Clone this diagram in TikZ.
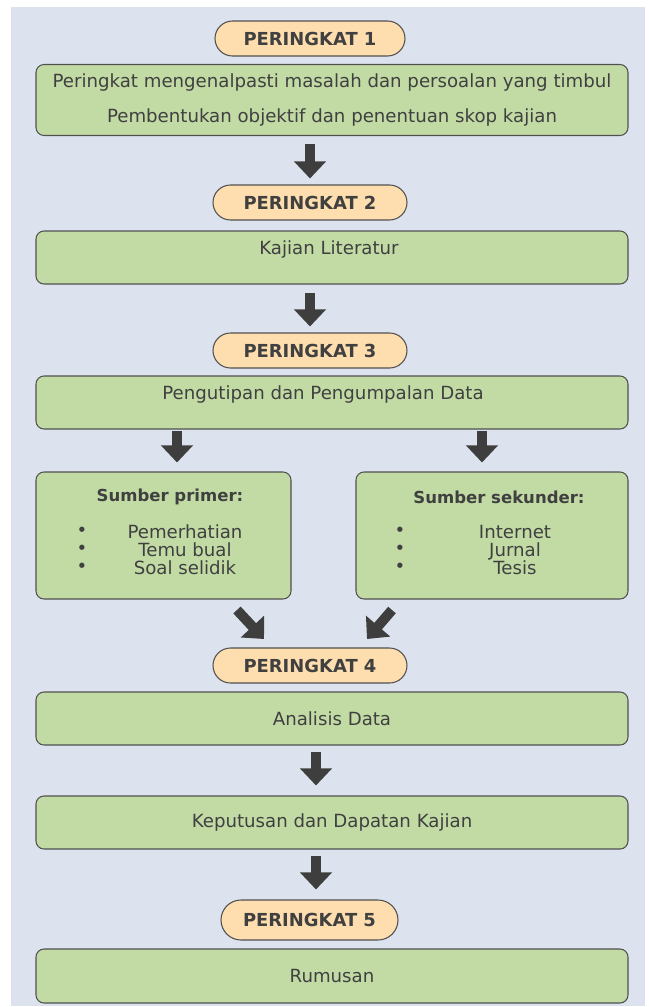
\documentclass[tikz,border=0pt]{standalone}
\usepackage{fontspec}
\setmainfont{DejaVu Sans}
\usetikzlibrary{arrows.meta,shapes.misc}
\newlength{\pxu}
\setlength{\pxu}{0.3mm}
\definecolor{bgblue}{HTML}{DDE3EE}
\definecolor{boxgreen}{HTML}{C2DBA5}
\definecolor{pillpeach}{HTML}{FEDDAE}
\definecolor{edgegrey}{HTML}{505050}
\definecolor{arrowgrey}{HTML}{3E3E3E}
\definecolor{textgrey}{HTML}{404040}

\begin{document}
\begin{tikzpicture}[x=0.3mm,y=-0.3mm]
\tikzstyle{stagebox}=[rounded rectangle,draw=edgegrey,fill=pillpeach,line width=0.9pt,
  minimum width=190\pxu,minimum height=35\pxu,inner sep=0pt,
  text=textgrey,font=\fontsize{15.3}{18}\selectfont\bfseries]
\tikzstyle{workbox}=[rectangle,rounded corners=2.4mm,draw=edgegrey,fill=boxgreen,line width=0.9pt,
  minimum width=592\pxu,minimum height=53\pxu,inner sep=0pt,
  text=textgrey,font=\fontsize{15.5}{18}\selectfont]
\tikzstyle{plain}=[inner sep=0pt,text=textgrey,font=\fontsize{15.5}{18}\selectfont]
\tikzstyle{listtext}=[inner sep=0pt,align=center,text=textgrey,font=\fontsize{15.5}{15.3}\selectfont]
\tikzstyle{bigarrow}=[draw=arrowgrey,line width=3mm,-{Triangle[length=5.1mm,width=9.3mm]}]

% background
\useasboundingbox (0,0) rectangle (649,1007);
\fill[bgblue] (11,7) rectangle (645,1006);

% stage 1
\node at (310,38.5) [stagebox] (p1) {PERINGKAT 1};
\node at (332,100) [workbox,minimum height=71\pxu,align=center,
  font=\fontsize{15.5}{29.8}\selectfont] (b1)
  {Peringkat mengenalpasti masalah dan persoalan yang timbul\\Pembentukan objektif dan penentuan skop kajian};

% stage 2
\node at (310,202.5) [stagebox,minimum width=194\pxu] (p2) {PERINGKAT 2};
\node at (332,257.5) [workbox] (b2) {};
\node at (329,249) [plain] (t2) {Kajian Literatur};

% stage 3
\node at (310,350.5) [stagebox,minimum width=194\pxu] (p3) {PERINGKAT 3};
\node at (332,402.5) [workbox] (b3) {};
\node at (323,394) [plain] (t3) {Pengutipan dan Pengumpalan Data};

% sources
\node at (163.5,535.5) [workbox,minimum width=255\pxu,minimum height=127\pxu] (bl) {};
\node at (170,497) [plain,font=\fontsize{14.1}{16}\selectfont\bfseries] (tl) {Sumber primer:};
\node at (82,550) [listtext] (dotl) {\textbullet\\\textbullet\\\textbullet};
\node at (185,550) [listtext] (srcl) {Pemerhatian\\Temu bual\\Soal selidik};

\node at (492,535.5) [workbox,minimum width=272\pxu,minimum height=127\pxu] (br) {};
\node at (499,497) [plain,font=\fontsize{14.1}{16}\selectfont\bfseries] (tr) {Sumber sekunder:};
\node at (400,550) [listtext] (dotr) {\textbullet\\\textbullet\\\textbullet};
\node at (515,550) [listtext] (srcr) {Internet\\Jurnal\\Tesis};

% stage 4
\node at (310,665.5) [stagebox,minimum width=194\pxu] (p4) {PERINGKAT 4};
\node at (332,718.5) [workbox] (b4) {Analisis Data};
\node at (332,822.5) [workbox] (b5) {Keputusan dan Dapatan Kajian};

% stage 5
\node at (309.5,920) [stagebox,minimum width=177\pxu,minimum height=40\pxu] (p5) {PERINGKAT 5};
\node at (332,976) [workbox,minimum height=54\pxu] (b6) {Rumusan};

% arrow ends
\coordinate (a3l) at (177,430);
\coordinate (a3r) at (482,430);
\coordinate (a4) at (316,745);
\coordinate (dl) at (237,610);
\coordinate (dlt) at (264,639);
\coordinate (dr) at (392,610);
\coordinate (drt) at (367,639);

\draw[bigarrow,shorten <=2.4mm,shorten >=1.8mm] (b1.south -| p2.north) -- (p2.north);
\draw[bigarrow,shorten <=2.4mm,shorten >=1.8mm] (b2.south -| p3.north) -- (p3.north);
\draw[bigarrow,shorten <=0.3mm,shorten >=2.7mm] (a3l) -- (a3l |- bl.north);
\draw[bigarrow,shorten <=0.3mm,shorten >=2.7mm] (a3r) -- (a3r |- br.north);
\draw[bigarrow] (dl) -- (dlt);
\draw[bigarrow] (dr) -- (drt);
\draw[bigarrow,shorten <=2.1mm,shorten >=3mm] (a4) -- (a4 |- b5.north);
\draw[bigarrow,shorten <=1.8mm,shorten >=3mm] (a4 |- b5.south) -- (a4 |- p5.north);

\end{tikzpicture}
\end{document}
